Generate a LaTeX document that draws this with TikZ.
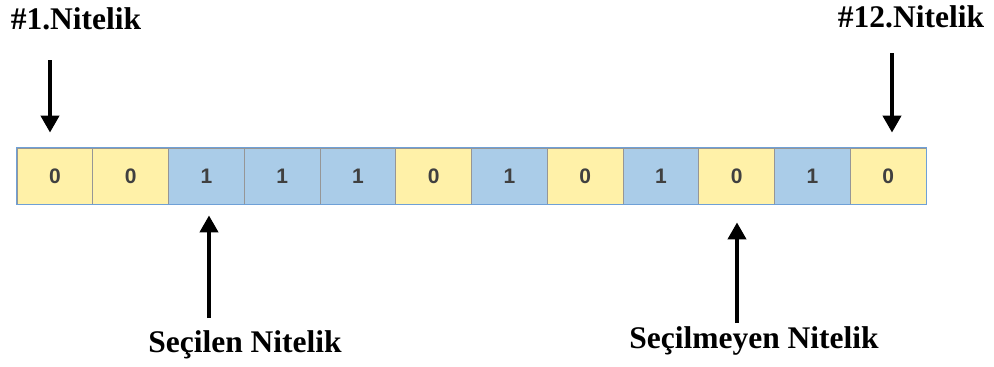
\documentclass[tikz,border=0pt]{standalone}
\usepackage{fontspec}
\setmainfont{Liberation Serif}
\newfontfamily\cellfont{Liberation Sans}
\usetikzlibrary{arrows.meta}
\definecolor{cyel}{RGB}{255,241,168}
\definecolor{cblu}{RGB}{170,204,232}
\definecolor{cline}{RGB}{150,150,150}
\definecolor{cframe}{RGB}{110,160,215}
\definecolor{cdig}{RGB}{64,64,64}
\tikzset{
  cell/.style={draw=cline, line width=0.8pt, minimum width=75.75pt, minimum height=56pt,
    inner sep=0pt, font=\cellfont\bfseries\fontsize{21}{21}\selectfont, text=cdig},
  zero/.style={cell, fill=cyel},
  one/.style={cell, fill=cblu},
  lbl/.style={font=\bfseries\fontsize{31.5}{31.5}\selectfont, inner sep=0pt},
  arr/.style={line width=4pt, -{Triangle[width=18pt,length=17pt]}}
}
\begin{document}
\begin{tikzpicture}[x=1pt,y=-1pt]
\useasboundingbox (0,0) rectangle (994,367);
\foreach \v [count=\i] in {0,0,1,1,1,0,1,0,1,0,1,0} {
  \ifnum\v=0 \def\st{zero}\else\def\st{one}\fi
  \node[\st] (c\i) at ({17+75.75*(\i-0.5)},176) {\v};
}
\draw[cframe, line width=1.2pt] (c1.north west) rectangle (c12.south east);
\node[lbl] (l1) at (76,19) {\#1.Nitelik};
\node[lbl] (l12) at (911,17) {\#12.Nitelik};
\node[lbl] (ls) at (245,345) {Seçilen Nitelik};
\node[lbl] (lm) at (754,341) {Seçilmeyen Nitelik};
\coordinate (a1) at (50,60);
\coordinate (a12) at (892,53);
\coordinate (as) at (209,318);
\coordinate (am) at (737,323);
\draw[arr, shorten >=15pt] (a1) -- (a1 |- c1.north);
\draw[arr, shorten >=15pt] (a12) -- (a12 |- c12.north);
\draw[arr, shorten >=11pt] (as) -- (as |- c3.south);
\draw[arr, shorten >=18pt] (am) -- (am |- c10.south);
\end{tikzpicture}
\end{document}
